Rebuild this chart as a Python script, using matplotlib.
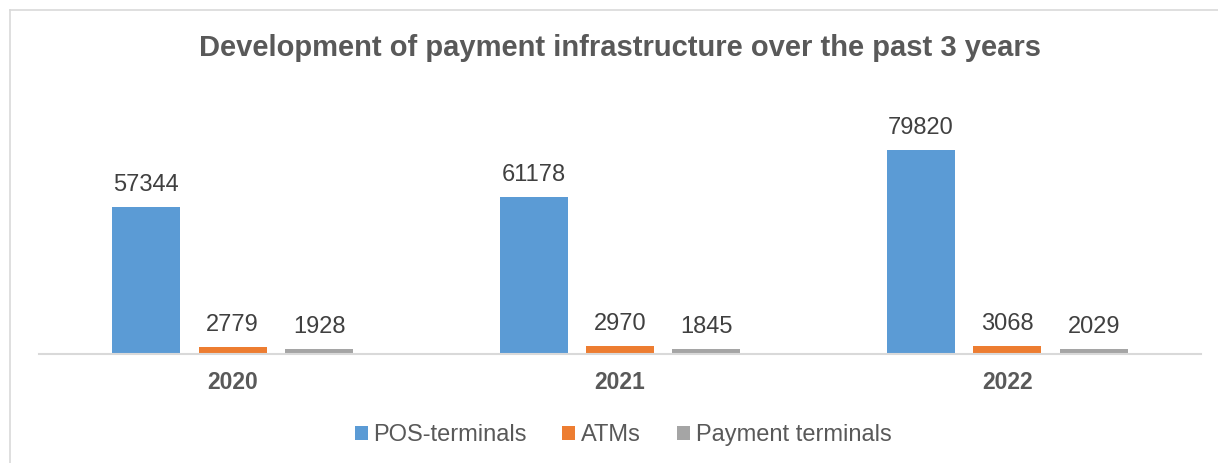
import numpy as np
import matplotlib
matplotlib.use("Agg")
import matplotlib.pyplot as plt
from matplotlib.lines import Line2D

years = ["2020", "2021", "2022"]
series_names = ["POS-terminals", "ATMs", "Payment terminals"]
pos_terminals = [57344, 61178, 79820]
atms = [2779, 2970, 3068]
payment_terminals = [1928, 1845, 2029]

colors = ["#5B9BD5", "#ED7D31", "#A5A5A5"]
TXT = "#595959"

plt.rcParams["font.family"] = ["Liberation Sans", "DejaVu Sans"]

W, H = 1218, 463
fig = plt.figure(figsize=(W / 100, H / 100), dpi=100)

# chart border (top and left only visible in reference)
fig.add_artist(Line2D([10 / W, 1], [1 - 10 / H, 1 - 10 / H], transform=fig.transFigure,
                      color="#D9D9D9", linewidth=1.2))
fig.add_artist(Line2D([10 / W, 10 / W], [0, 1 - 10 / H], transform=fig.transFigure,
                      color="#D9D9D9", linewidth=1.2))

# axes: x 39..1200, baseline at y=354, top at y=98
ax = fig.add_axes([39 / W, (H - 354) / H, (1201 - 39) / W, (354 - 98) / H])
ax.set_ylim(0, 100000)
ax.set_xlim(-0.5, 2.5)

x = np.arange(len(years))
step = 0.2233
width = 0.1756
for i, (vals, name) in enumerate(zip([pos_terminals, atms, payment_terminals], series_names)):
    bars = ax.bar(x + (i - 1) * step, vals, width, color=colors[i], label=name, zorder=2)
    for b, v in zip(bars, vals):
        ax.annotate(str(v), (b.get_x() + b.get_width() / 2, v), xytext=(0, 8),
                    textcoords="offset points", ha="center", va="bottom",
                    fontsize=17, color="#404040")

for s in ["top", "right", "left"]:
    ax.spines[s].set_visible(False)
ax.spines["bottom"].set_color("#D9D9D9")
ax.spines["bottom"].set_linewidth(1.5)
ax.set_yticks([])
ax.set_xticks(x)
ax.set_xticklabels(years, fontsize=16.5, fontweight="bold", color=TXT)
ax.tick_params(axis="x", length=0, pad=12)

fig.text(620 / W, 1 - 48 / H, "Development of payment infrastructure over the past 3 years",
         ha="center", va="center", fontsize=21, fontweight="bold", color=TXT)

fig.legend(loc="center", bbox_to_anchor=(623 / W, 1 - 435 / H), ncol=3, frameon=False,
           fontsize=17, labelcolor=TXT, handlelength=0.55, handleheight=0.55,
           handletextpad=0.25, columnspacing=1.5)

fig.savefig("out.png", dpi=100)
